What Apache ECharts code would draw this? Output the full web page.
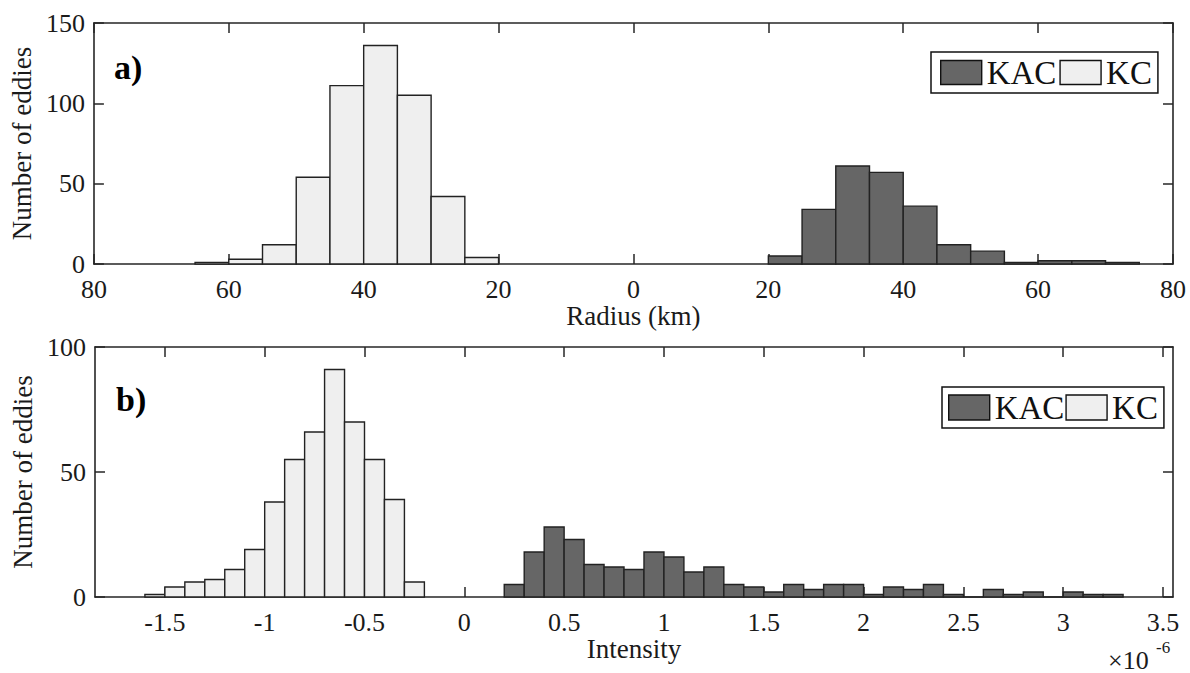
<!DOCTYPE html>
<html>
<head>
<meta charset="utf-8">
<script src="https://cdn.jsdelivr.net/npm/echarts@6/dist/echarts.min.js"></script>
<style>
html,body{margin:0;padding:0;background:#ffffff;}
#chart{width:1190px;height:673px;}
</style>
</head>
<body>
<div id="chart"></div>
<script>
// ---------- data ----------
const seriesNames = ['KAC', 'KC'];

// a) Radius (km): KC drawn on the negative side, labels show absolute values
const kcRadiusEdges = [-65, -60, -55, -50, -45, -40, -35, -30, -25, -20];
const kcRadiusCounts = [1, 3, 12, 54, 111, 136, 105, 42, 4];
const kacRadiusEdges = [20, 25, 30, 35, 40, 45, 50, 55, 60, 65, 70, 75];
const kacRadiusCounts = [5, 34, 61, 57, 36, 12, 8, 1, 2, 2, 1];

// b) Intensity (x 1e-6)
const intensityTicks = [-1.5, -1, -0.5, 0, 0.5, 1, 1.5, 2, 2.5, 3, 3.5];
const kcIntensityEdges = [-1.6, -1.5, -1.4, -1.3, -1.2, -1.1, -1.0, -0.9, -0.8, -0.7, -0.6, -0.5, -0.4, -0.3, -0.2];
const kcIntensityCounts = [1, 4, 6, 7, 11, 19, 38, 55, 66, 91, 70, 55, 39, 6];
const kacIntensityEdges = [0.2, 0.3, 0.4, 0.5, 0.6, 0.7, 0.8, 0.9, 1.0, 1.1, 1.2, 1.3, 1.4, 1.5, 1.6, 1.7, 1.8, 1.9, 2.0, 2.1, 2.2, 2.3, 2.4, 2.5, 2.6, 2.7, 2.8, 2.9, 3.0, 3.1, 3.2, 3.3];
const kacIntensityCounts = [5, 18, 28, 23, 13, 12, 11, 18, 16, 10, 12, 5, 4, 2, 5, 3, 5, 5, 1, 4, 3, 5, 1, 0, 3, 1, 2, 0, 2, 1, 1];

// ---------- styling ----------
const FONT = 'Liberation Serif, "Times New Roman", serif';
const INK = '#262626';
const DARK = '#666666';
const LIGHT = '#efefef';
const EDGE = '#222222';

function bins(edges, counts) {
  return counts.map((c, i) => [edges[i], edges[i + 1], c]);
}

function renderHist(fill) {
  return function (params, api) {
    const x0 = api.value(0), x1 = api.value(1), y = api.value(2);
    const p0 = api.coord([x0, y]);
    const p1 = api.coord([x1, 0]);
    return {
      type: 'rect',
      shape: { x: p0[0], y: p0[1], width: p1[0] - p0[0], height: p1[1] - p0[1] },
      style: { fill: fill, stroke: EDGE, lineWidth: 1.4 }
    };
  };
}

const axisLine = { show: true, onZero: false, lineStyle: { color: INK, width: 1.6 } };
const axisTickIn = { show: true, inside: true, length: 10, lineStyle: { color: INK, width: 1.5 } };
const labelStyle = { color: '#1a1a1a', fontFamily: FONT, fontSize: 26 };
const nameStyle = { color: '#1a1a1a', fontFamily: FONT, fontSize: 27 };

const chart = echarts.init(document.getElementById('chart'), null, { renderer: 'svg' });

const option = {
  backgroundColor: '#ffffff',
  animation: false,
  grid: [
    { left: 93, top: 23, width: 1080, height: 241, containLabel: false },
    { left: 95, top: 347, width: 1078, height: 250, containLabel: false }
  ],
  xAxis: [
    { gridIndex: 0, type: 'value', position: 'bottom', min: -80, max: 80, interval: 20,
      axisLine: axisLine, axisTick: axisTickIn, splitLine: { show: false },
      axisLabel: Object.assign({ margin: 12, formatter: v => String(Math.abs(v)) }, labelStyle),
      name: 'Radius (km)', nameLocation: 'middle', nameGap: 36, nameTextStyle: nameStyle },
    { gridIndex: 0, type: 'value', position: 'top', min: -80, max: 80, interval: 20,
      axisLine: axisLine, axisTick: axisTickIn, splitLine: { show: false }, axisLabel: { show: false } },
    { gridIndex: 1, type: 'value', position: 'bottom', min: -1.85, max: 3.55,
      axisLine: axisLine, splitLine: { show: false },
      axisTick: Object.assign({ customValues: intensityTicks }, axisTickIn),
      axisLabel: Object.assign({ margin: 12, customValues: intensityTicks, formatter: v => String(v) }, labelStyle),
      name: 'Intensity', nameLocation: 'middle', nameGap: 38, nameTextStyle: nameStyle },
    { gridIndex: 1, type: 'value', position: 'top', min: -1.85, max: 3.55,
      axisLine: axisLine, splitLine: { show: false },
      axisTick: Object.assign({ customValues: intensityTicks }, axisTickIn),
      axisLabel: { show: false } }
  ],
  yAxis: [
    { gridIndex: 0, type: 'value', position: 'left', min: 0, max: 150, interval: 50,
      axisLine: axisLine, axisTick: axisTickIn, splitLine: { show: false },
      axisLabel: Object.assign({ margin: 9 }, labelStyle),
      name: 'Number of eddies', nameLocation: 'middle', nameGap: 52, nameRotate: 90, nameTextStyle: nameStyle },
    { gridIndex: 0, type: 'value', position: 'right', min: 0, max: 150, interval: 50,
      axisLine: axisLine, axisTick: axisTickIn, splitLine: { show: false }, axisLabel: { show: false } },
    { gridIndex: 1, type: 'value', position: 'left', min: 0, max: 100, interval: 50,
      axisLine: axisLine, axisTick: axisTickIn, splitLine: { show: false },
      axisLabel: Object.assign({ margin: 9 }, labelStyle),
      name: 'Number of eddies', nameLocation: 'middle', nameGap: 54, nameRotate: 90, nameTextStyle: nameStyle },
    { gridIndex: 1, type: 'value', position: 'right', min: 0, max: 100, interval: 50,
      axisLine: axisLine, axisTick: axisTickIn, splitLine: { show: false }, axisLabel: { show: false } }
  ],
  legend: [
    { left: 931, top: 52, orient: 'horizontal', selectedMode: false, icon: 'rect',
      itemWidth: 41, itemHeight: 24, itemGap: 3,
      padding: [4, 6, 4, 9], borderColor: '#111', borderWidth: 1.5, backgroundColor: '#fff',
      textStyle: { color: '#111', fontFamily: FONT, fontSize: 33 },
      itemStyle: { borderColor: '#111', borderWidth: 1.4 },
      data: [{ name: seriesNames[0], itemStyle: { color: DARK } }, { name: seriesNames[1], itemStyle: { color: LIGHT } }] },
    { left: 942, top: 387, orient: 'horizontal', selectedMode: false, icon: 'rect',
      itemWidth: 41, itemHeight: 25, itemGap: 1,
      padding: [4, 6, 4, 6], borderColor: '#111', borderWidth: 1.5, backgroundColor: '#fff',
      textStyle: { color: '#111', fontFamily: FONT, fontSize: 33 },
      itemStyle: { borderColor: '#111', borderWidth: 1.4 },
      data: [{ name: seriesNames[0], itemStyle: { color: DARK } }, { name: seriesNames[1], itemStyle: { color: LIGHT } }] }
  ],
  series: [
    { type: 'custom', name: seriesNames[1], xAxisIndex: 0, yAxisIndex: 0, itemStyle: { color: LIGHT },
      renderItem: renderHist(LIGHT), encode: { x: [0, 1], y: 2 }, data: bins(kcRadiusEdges, kcRadiusCounts) },
    { type: 'custom', name: seriesNames[0], xAxisIndex: 0, yAxisIndex: 0, itemStyle: { color: DARK },
      renderItem: renderHist(DARK), encode: { x: [0, 1], y: 2 }, data: bins(kacRadiusEdges, kacRadiusCounts) },
    { type: 'custom', name: seriesNames[1], xAxisIndex: 2, yAxisIndex: 2, itemStyle: { color: LIGHT },
      renderItem: renderHist(LIGHT), encode: { x: [0, 1], y: 2 }, data: bins(kcIntensityEdges, kcIntensityCounts) },
    { type: 'custom', name: seriesNames[0], xAxisIndex: 2, yAxisIndex: 2, itemStyle: { color: DARK },
      renderItem: renderHist(DARK), encode: { x: [0, 1], y: 2 }, data: bins(kacIntensityEdges, kacIntensityCounts) }
  ],
  graphic: [
    { type: 'text', left: 114, top: 50, style: { text: 'a)', font: 'bold 34px ' + FONT, fill: '#000' } },
    { type: 'text', left: 116, top: 382, style: { text: 'b)', font: 'bold 34px ' + FONT, fill: '#000' } },
    { type: 'text', left: 1108, top: 647, style: { text: '\u00d710', font: '26px ' + FONT, fill: '#1a1a1a' } },
    { type: 'text', left: 1156, top: 639, style: { text: '-6', font: '17px ' + FONT, fill: '#1a1a1a' } }
  ]
};

chart.setOption(option);
</script>
</body>
</html>
